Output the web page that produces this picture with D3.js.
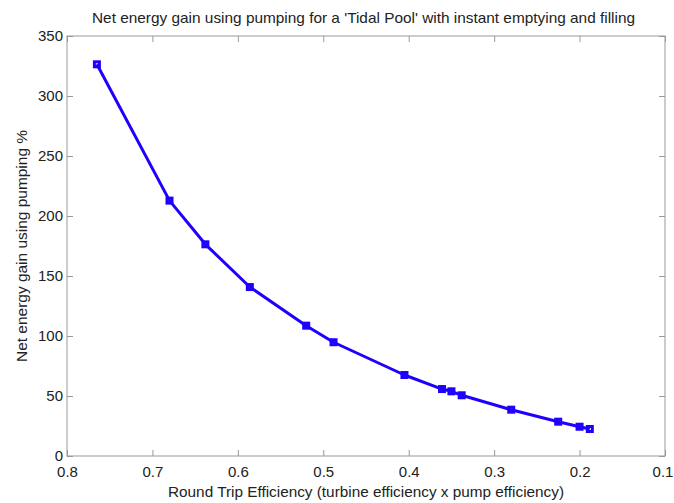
<!DOCTYPE html>
<html><head><meta charset="utf-8">
<script src="https://cdn.jsdelivr.net/npm/d3@7"></script>
<style>body{margin:0;background:#fff;} text{font-family:"Liberation Sans",Arial,sans-serif;fill:#222;}</style>
</head><body>
<svg id="c" width="674" height="503"></svg>
<script>
const efficiency = [0.765, 0.680, 0.638, 0.586, 0.520, 0.488, 0.405, 0.361, 0.350, 0.338, 0.280, 0.225, 0.200, 0.188];
const netGain    = [326.4, 212.8, 176.4, 140.8, 108.6, 94.8, 67.5, 55.8, 53.9, 50.6, 38.6, 28.6, 24.4, 22.5];
const xTicks = [0.8, 0.7, 0.6, 0.5, 0.4, 0.3, 0.2, 0.1];
const yTicks = [0, 50, 100, 150, 200, 250, 300, 350];
const title = "Net energy gain using pumping for a 'Tidal Pool' with instant emptying and filling";
const xLabel = "Round Trip Efficiency (turbine efficiency x pump efficiency)";
const yLabel = "Net energy gain using pumping %";

const svg = d3.select("#c");
const L = 67, R = 665, T = 36, B = 456;
const x = d3.scaleLinear().domain([0.8, 0.1]).range([L, R]);
const y = d3.scaleLinear().domain([0, 350]).range([B, T]);
const axisColor = "#999";

svg.append("rect").attr("x", L).attr("y", T).attr("width", R - L).attr("height", B - T)
  .attr("fill", "none").attr("stroke", axisColor).attr("stroke-width", 1);

const fmtX = d3.format(".1f");
const gx = svg.append("g").attr("transform", `translate(0,${B})`)
  .call(d3.axisBottom(x).tickValues(xTicks).tickFormat(fmtX).tickSizeInner(-6).tickSizeOuter(0).tickPadding(10));
const gxt = svg.append("g").attr("transform", `translate(0,${T})`)
  .call(d3.axisTop(x).tickValues(xTicks).tickFormat("").tickSizeInner(-6).tickSizeOuter(0));
const gy = svg.append("g").attr("transform", `translate(${L},0)`)
  .call(d3.axisLeft(y).tickValues(yTicks).tickFormat(d3.format("d")).tickSizeInner(-6).tickSizeOuter(0).tickPadding(4));
const gyr = svg.append("g").attr("transform", `translate(${R},0)`)
  .call(d3.axisRight(y).tickValues(yTicks).tickFormat("").tickSizeInner(-6).tickSizeOuter(0));
[gx, gxt, gy, gyr].forEach(g => {
  g.select(".domain").remove();
  g.selectAll(".tick line").attr("stroke", axisColor);
  g.selectAll(".tick text").attr("font-size", 15).attr("fill", "#222")
   .style("font-family", '"Liberation Sans",Arial,sans-serif');
});
gx.selectAll(".tick text").attr("dy", "0.71em");
gx.selectAll(".tick text").filter(d => d === 0.1).attr("dx", -2.5);

const pts = efficiency.map((e, i) => [e, netGain[i]]);
svg.append("path").datum(pts)
  .attr("fill", "none").attr("stroke", "#1f00ff").attr("stroke-width", 3).attr("stroke-linejoin", "round")
  .attr("d", d3.line().x(d => x(d[0])).y(d => y(d[1])));
const s = 5;
svg.selectAll("rect.m").data(pts).enter().append("rect").attr("class", "m")
  .attr("x", d => x(d[0]) - s / 2).attr("y", d => y(d[1]) - s / 2)
  .attr("width", s).attr("height", s)
  .attr("fill", "none").attr("stroke", "#1f00ff").attr("stroke-width", 3);

svg.append("text").attr("x", 363.5).attr("y", 23).attr("text-anchor", "middle")
  .attr("font-size", 14.5).attr("textLength", 543).attr("lengthAdjust", "spacingAndGlyphs").text(title);
svg.append("text").attr("x", 366).attr("y", 497).attr("text-anchor", "middle")
  .attr("font-size", 14.5).attr("textLength", 396).attr("lengthAdjust", "spacingAndGlyphs").text(xLabel);
svg.append("text").attr("transform", `translate(27,246) rotate(-90)`).attr("text-anchor", "middle")
  .attr("font-size", 15).attr("textLength", 232).attr("lengthAdjust", "spacingAndGlyphs").text(yLabel);
</script>
</body></html>
